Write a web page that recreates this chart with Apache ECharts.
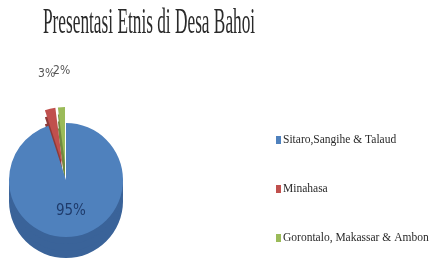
<!DOCTYPE html>
<html>
<head>
<meta charset="utf-8">
<script src="https://cdn.jsdelivr.net/npm/echarts@6/dist/echarts.min.js"></script>
<style>
html, body { margin: 0; padding: 0; background: #fff; }
#chart { width: 434px; height: 270px; }
</style>
</head>
<body>
<div id="chart"></div>
<script>
var titleText = 'Presentasi Etnis di Desa Bahoi'
var groups = ['Sitaro,Sangihe & Talaud', 'Minahasa', 'Gorontalo, Makassar & Ambon']
var shares = [95, 3, 2]
var topColors = ['#4f81bd', '#c0504d', '#9bbb59']
var sideColors = ['#3a6399', '#8e3a38', '#718a41']

var chart = echarts.init(document.getElementById('chart'))

function pieData(colors) {
  return groups.map(function (name, i) {
    return {
      name: name,
      value: shares[i],
      selected: i > 0,
      itemStyle: { color: colors[i] }
    }
  })
}

// label look per slice: big one inside, the two small ones above
var labelOpts = [
  { position: 'inside', color: '#1f3b6b', fontSize: 15 },
  { position: 'outside', color: '#555', fontSize: 12, distanceToLabelLine: -13 },
  { position: 'outside', color: '#555', fontSize: 12, distanceToLabelLine: -11 }
]

// top face of the pie
var series = [{
  type: 'pie',
  z: 3,
  center: [66, 180],
  radius: 57,
  startAngle: 90,
  selectedMode: 'multiple',
  selectedOffset: 16,
  avoidLabelOverlap: false,
  data: pieData(topColors).map(function (d, i) {
    d.label = labelOpts[i]
    return d
  }),
  label: {
    show: true,
    formatter: '{d}%',
    fontFamily: 'Liberation Sans Narrow, DejaVu Sans Condensed, Liberation Sans'
  },
  labelLine: { show: false, length: 36, length2: 0 },
  labelLayout: { hideOverlap: false }
}]

// the side, a few darker layers underneath
;[21, 14, 7].forEach(function (off) {
  series.push({
    type: 'pie',
    z: 2,
    silent: true,
    center: [66, 180 + off],
    radius: 57,
    startAngle: 90,
    selectedMode: 'multiple',
    selectedOffset: 16,
    data: pieData(sideColors),
    label: { show: false },
    labelLine: { show: false }
  })
})

chart.setOption({
  animation: false,
  graphic: [{
    type: 'text',
    x: 43,
    y: 6,
    scaleX: 0.48,
    style: {
      text: titleText,
      font: '36px "Liberation Serif"',
      fill: '#2a2a2a'
    }
  }],
  legend: {
    data: groups,
    orient: 'vertical',
    left: 271,
    top: 129,
    itemGap: 37,
    itemWidth: 5,
    itemHeight: 8,
    icon: 'rect',
    textStyle: {
      fontFamily: 'Liberation Serif',
      fontSize: 11.5,
      color: '#2a2a2a',
      padding: [0, 0, 0, -3]
    }
  },
  series: series
})
</script>
</body>
</html>
